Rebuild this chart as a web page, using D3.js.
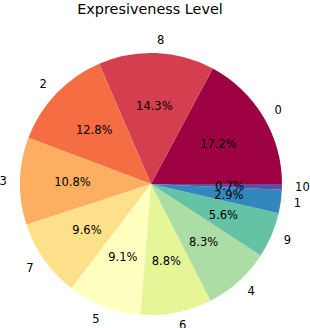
<!DOCTYPE html>
<html>
<head>
  <meta charset="UTF-8">
  <style>
    body { margin: 0; background: #fff; }
    svg { display: block; font-family: "DejaVu Sans", sans-serif; }
  </style>
</head>
<body>
<svg></svg>
<script src="https://d3js.org/d3.v7.min.js"></script>
<script>

let width = 310, height = 328;

// slices in drawing order (counterclockwise from 3 o'clock)
const levels = ["0", "8", "2", "3", "7", "5", "6", "4", "9", "1", "10"];
const shares = [17.2, 14.3, 12.8, 10.8, 9.6, 9.1, 8.8, 8.3, 5.6, 2.9, 0.7];
const title = "Expresiveness Level";

let svg = d3.select("svg")
    .attr("width", width)
    .attr("height", height);

let cx = 151, cy = 184, r = 131;

let color = d3.scaleOrdinal()
    .domain(levels)
    .range(d3.schemeSpectral[11]);

// matplotlib starts at 0 deg and goes counterclockwise
let pie = d3.pie()
    .sort(null)
    .startAngle(Math.PI / 2)
    .endAngle(Math.PI / 2 - 2 * Math.PI);

let arcs = pie(shares);

let arc = d3.arc().innerRadius(0).outerRadius(r);
let pctArc = d3.arc().innerRadius(r * 0.6).outerRadius(r * 0.6);
let lblArc = d3.arc().innerRadius(r * 1.1).outerRadius(r * 1.1);

let g = svg.append("g")
    .attr("transform", "translate(" + cx + "," + cy + ")");

g.selectAll("path")
    .data(arcs)
    .enter()
    .append("path")
    .attr("d", arc)
    .attr("fill", (d, i) => color(levels[i]));

g.selectAll("text.lbl")
    .data(arcs)
    .enter()
    .append("text")
    .attr("class", "lbl")
    .attr("x", d => lblArc.centroid(d)[0])
    .attr("y", d => lblArc.centroid(d)[1])
    .attr("dy", "0.35em")
    .attr("text-anchor", d => lblArc.centroid(d)[0] > 0 ? "start" : "end")
    .style("font-size", "11.5px")
    .attr("fill", "#000")
    .text((d, i) => levels[i]);

g.selectAll("text.pct")
    .data(arcs)
    .enter()
    .append("text")
    .attr("class", "pct")
    .attr("x", d => pctArc.centroid(d)[0])
    .attr("y", d => pctArc.centroid(d)[1])
    .attr("dy", "0.35em")
    .attr("text-anchor", "middle")
    .style("font-size", "11.5px")
    .attr("fill", "#000")
    .text(d => d.data.toFixed(1) + "%");

svg.append("text")
    .attr("x", 150)
    .attr("y", 14)
    .attr("text-anchor", "middle")
    .style("font-size", "14.4px")
    .text(title);

</script>
</body>
</html>
